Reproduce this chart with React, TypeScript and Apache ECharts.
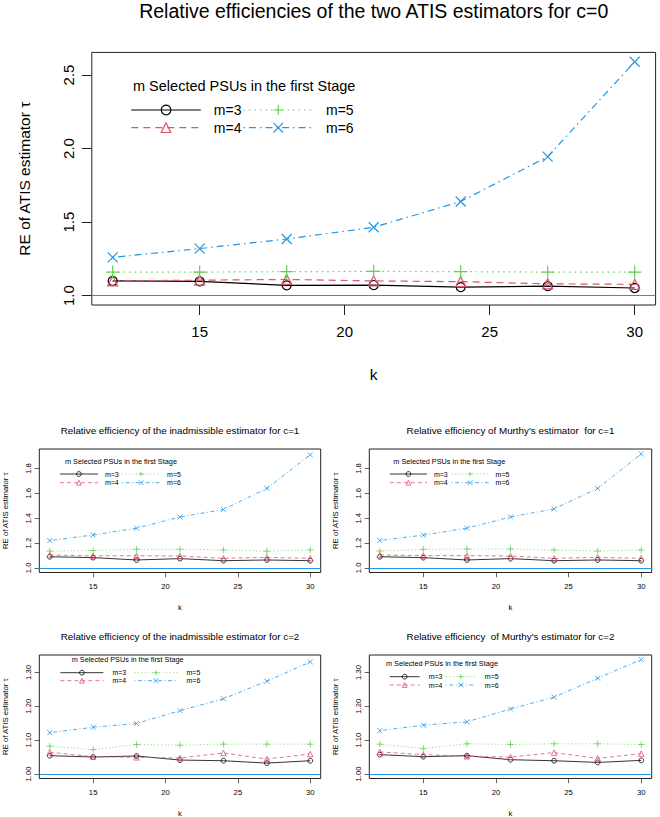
import React, { useEffect, useRef } from "react";
import * as echarts from "echarts";

// ---------- data ----------
const kValues = [12, 15, 18, 21, 24, 27, 30];
const seriesNames = ["m=3", "m=4", "m=5", "m=6"];
const kTicks = [15, 20, 25, 30];

// c = 0 (two ATIS estimators)
const c0_m3 = [1.1, 1.097, 1.07, 1.072, 1.058, 1.065, 1.052];
const c0_m4 = [1.1, 1.105, 1.11, 1.1, 1.095, 1.08, 1.077];
const c0_m5 = [1.16, 1.16, 1.163, 1.165, 1.163, 1.16, 1.16];
const c0_m6 = [1.26, 1.32, 1.385, 1.465, 1.64, 1.945, 2.59];
const c0Ticks = [1.0, 1.5, 2.0, 2.5];

// c = 1, inadmissible estimator
const c1i_m3 = [1.09, 1.083, 1.064, 1.075, 1.058, 1.064, 1.058];
const c1i_m4 = [1.104, 1.097, 1.098, 1.096, 1.077, 1.085, 1.077];
const c1i_m5 = [1.135, 1.14, 1.15, 1.15, 1.145, 1.135, 1.145];
const c1i_m6 = [1.22, 1.265, 1.32, 1.41, 1.47, 1.64, 1.91];

// c = 1, Murthy's estimator
const c1m_m3 = [1.09, 1.083, 1.064, 1.075, 1.058, 1.064, 1.058];
const c1m_m4 = [1.104, 1.099, 1.099, 1.096, 1.077, 1.085, 1.077];
const c1m_m5 = [1.136, 1.149, 1.152, 1.152, 1.144, 1.136, 1.144];
const c1m_m6 = [1.221, 1.264, 1.32, 1.41, 1.475, 1.64, 1.917];
const c1Ticks = [1.0, 1.2, 1.4, 1.6, 1.8];

// c = 2, inadmissible estimator
const c2i_m3 = [1.054, 1.05, 1.053, 1.041, 1.039, 1.032, 1.039];
const c2i_m4 = [1.064, 1.051, 1.049, 1.047, 1.062, 1.044, 1.059];
const c2i_m5 = [1.082, 1.072, 1.087, 1.085, 1.088, 1.088, 1.088];
const c2i_m6 = [1.122, 1.138, 1.149, 1.187, 1.222, 1.274, 1.331];

// c = 2, Murthy's estimator
const c2m_m3 = [1.057, 1.051, 1.054, 1.042, 1.039, 1.034, 1.04];
const c2m_m4 = [1.065, 1.057, 1.052, 1.05, 1.063, 1.046, 1.06];
const c2m_m5 = [1.088, 1.075, 1.089, 1.087, 1.089, 1.089, 1.087];
const c2m_m6 = [1.128, 1.144, 1.154, 1.192, 1.227, 1.283, 1.338];
const c2Ticks = [1.0, 1.1, 1.2, 1.3];

const panelTitles = [
  "Relative efficiencies of the two ATIS estimators for c=0",
  "Relative efficiency of the inadmissible estimator for c=1",
  "Relative efficiency of Murthy's estimator  for c=1",
  "Relative efficiency of the inadmissible estimator for c=2",
  "Relative efficiency  of Murthy's estimator for c=2",
];
const legendTitle = "m Selected PSUs in the first Stage";
const yName = "RE of ATIS estimator τ";
const xName = "k";

// ---------- styles ----------
const FONT = "'Liberation Sans', Arial, Helvetica, sans-serif";
const COLORS = ["#000000", "#DF536B", "#61D04F", "#2297E6"];
const SYMBOLS = [
  "circle",
  "triangle",
  "path://M0,5L10,5M5,0L5,10",
  "path://M0,0L10,10M10,0L0,10",
];
const DASH_BIG: any[] = ["solid", [7, 5], [1.5, 4], [1.5, 4, 7, 4]];
const DASH_SMALL: any[] = ["solid", [4, 3], [1, 2.5], [1, 2.5, 4, 2.5]];
const SYM_BIG = [9, 10, 13, 10];
const SYM_SMALL = [4.8, 5.5, 6.5, 5];

type Panel = {
  values: number[][];
  ticks: number[];
  dec: number;
  yMin: number;
  yMax: number;
  big: boolean;
  grid: { left: number; top: number; width: number; height: number };
  titleX: number;
  titleY: number;
  leg: {
    titleX: number;
    titleY: number;
    lineX: number;
    row1: number;
    row2: number;
    itemWidth: number;
    pad: number;
    gap: number;
  };
};

const panels: Panel[] = [
  {
    values: [c0_m3, c0_m4, c0_m5, c0_m6],
    ticks: c0Ticks,
    dec: 1,
    yMin: 0.9364,
    yMax: 2.6536,
    big: true,
    grid: { left: 91.8, top: 52.4, width: 563.8, height: 252.6 },
    titleX: 373.7,
    titleY: 1,
    leg: { titleX: 133, titleY: 78.5, lineX: 130.7, row1: 110, row2: 127.7, itemWidth: 69.5, pad: 8, gap: 1.5 },
  },
  {
    values: [c1i_m3, c1i_m4, c1i_m5, c1i_m6],
    ticks: c1Ticks,
    dec: 1,
    yMin: 0.9632,
    yMax: 1.9568,
    big: false,
    grid: { left: 39.3, top: 449, width: 281.4, height: 123.5 },
    titleX: 180,
    titleY: 425,
    leg: { titleX: 65, titleY: 458, lineX: 59.5, row1: 474, row2: 482.7, itemWidth: 38, pad: 2, gap: 3 },
  },
  {
    values: [c1m_m3, c1m_m4, c1m_m5, c1m_m6],
    ticks: c1Ticks,
    dec: 1,
    yMin: 0.9632,
    yMax: 1.9568,
    big: false,
    grid: { left: 369.3, top: 449, width: 282.4, height: 123.5 },
    titleX: 510.5,
    titleY: 425,
    leg: { titleX: 393.3, titleY: 458, lineX: 389.5, row1: 474, row2: 482.7, itemWidth: 37, pad: 2, gap: 3.5 },
  },
  {
    values: [c2i_m3, c2i_m4, c2i_m5, c2i_m6],
    ticks: c2Ticks,
    dec: 2,
    yMin: 0.9865,
    yMax: 1.3515,
    big: false,
    grid: { left: 39.3, top: 655, width: 281.4, height: 123.5 },
    titleX: 180,
    titleY: 631,
    leg: { titleX: 71.7, titleY: 655.6, lineX: 60, row1: 672.7, row2: 680.7, itemWidth: 43, pad: 4, gap: 7.9 },
  },
  {
    values: [c2m_m3, c2m_m4, c2m_m5, c2m_m6],
    ticks: c2Ticks,
    dec: 2,
    yMin: 0.9865,
    yMax: 1.3515,
    big: false,
    grid: { left: 369.3, top: 655, width: 282.4, height: 123.5 },
    titleX: 510.5,
    titleY: 631,
    leg: { titleX: 386, titleY: 659.6, lineX: 389.3, row1: 676.7, row2: 685, itemWidth: 30, pad: 4, gap: 2.9 },
  },
];

function buildOption() {
  const titles: any[] = [];
  const legends: any[] = [];
  const grids: any[] = [];
  const xAxes: any[] = [];
  const yAxes: any[] = [];
  const series: any[] = [];

  panels.forEach((p, pi) => {
    const big = p.big;
    const lw = big ? 1.2 : 0.8;
    const dashes = big ? DASH_BIG : DASH_SMALL;
    const syms = big ? SYM_BIG : SYM_SMALL;

    titles.push({
      text: panelTitles[pi],
      left: p.titleX,
      top: p.titleY,
      textAlign: "center",
      padding: 0,
      textStyle: { fontSize: big ? 19.5 : 9.8, fontWeight: "normal", color: "#000", fontFamily: FONT },
    });
    titles.push({
      text: legendTitle,
      left: p.leg.titleX,
      top: p.leg.titleY,
      textAlign: "left",
      padding: 0,
      textStyle: { fontSize: big ? 14.5 : 7.3, fontWeight: "normal", color: "#000", fontFamily: FONT },
    });

    const itemH = big ? 12 : 6;
    const legFont = big ? 14 : 7;
    const rowH = Math.max(itemH, legFont);
    const rows = [
      [0, 2],
      [1, 3],
    ];
    rows.forEach((idxs, ri) => {
      legends.push({
        show: true,
        orient: "horizontal",
        left: p.leg.lineX,
        top: (ri === 0 ? p.leg.row1 : p.leg.row2) - rowH / 2,
        padding: 0,
        itemGap: p.leg.gap,
        itemWidth: p.leg.itemWidth,
        itemHeight: itemH,
        selectedMode: false,
        textStyle: { fontSize: legFont, color: "#000", fontFamily: FONT, padding: [0, 0, 0, p.leg.pad] },
        data: idxs.map((mi) => ({
          name: seriesNames[mi],
          lineStyle: { color: COLORS[mi], width: lw, type: dashes[mi] },
          itemStyle: { color: "rgba(0,0,0,0)", borderColor: COLORS[mi], borderWidth: lw },
        })),
      });
    });

    grids.push({
      left: p.grid.left,
      top: p.grid.top,
      width: p.grid.width,
      height: p.grid.height,
      show: true,
      borderColor: "#222",
      borderWidth: 1,
      backgroundColor: "rgba(0,0,0,0)",
      containLabel: false,
      outerBoundsMode: "none",
    });

    xAxes.push({
      type: "value",
      gridIndex: pi,
      min: 11.28,
      max: 30.72,
      axisLine: { show: false },
      axisTick: {
        show: true,
        inside: false,
        length: big ? 10 : 4.7,
        lineStyle: { color: "#222", width: big ? 1 : 0.7 },
        customValues: kTicks,
      },
      axisLabel: {
        customValues: kTicks,
        margin: big ? 19 : 10,
        fontSize: big ? 15 : 7.7,
        color: "#000",
        fontFamily: FONT,
      },
      splitLine: { show: false },
      name: xName,
      nameLocation: "middle",
      nameGap: big ? 61 : 31,
      nameTextStyle: { fontSize: big ? 15.5 : 7.7, color: "#000", fontFamily: FONT },
    });

    yAxes.push({
      type: "value",
      gridIndex: pi,
      min: p.yMin,
      max: p.yMax,
      axisLine: { show: false },
      axisTick: {
        show: true,
        inside: false,
        length: big ? 10 : 4.7,
        lineStyle: { color: "#222", width: big ? 1 : 0.7 },
        customValues: p.ticks,
      },
      axisLabel: {
        customValues: p.ticks,
        rotate: 90,
        margin: big ? 16 : 7,
        fontSize: big ? 15 : 7.7,
        color: "#000",
        fontFamily: FONT,
        formatter: (v: number) => Number(v).toFixed(p.dec),
      },
      splitLine: { show: false },
      name: yName,
      nameLocation: "middle",
      nameRotate: 90,
      nameGap: big ? 59 : 30,
      nameTextStyle: { fontSize: big ? 15.5 : 7.7, color: "#000", fontFamily: FONT },
    });

    p.values.forEach((vals, mi) => {
      const s: any = {
        type: "line",
        name: seriesNames[mi],
        xAxisIndex: pi,
        yAxisIndex: pi,
        data: kValues.map((k, i) => [k, vals[i]]),
        symbol: SYMBOLS[mi],
        symbolSize: syms[mi],
        showAllSymbol: true,
        lineStyle: { color: COLORS[mi], width: lw, type: dashes[mi] },
        itemStyle: { color: "rgba(0,0,0,0)", borderColor: COLORS[mi], borderWidth: lw },
        emphasis: { disabled: true },
        silent: true,
        z: 3,
      };
      if (mi === 0) {
        s.markLine = {
          silent: true,
          symbol: "none",
          label: { show: false },
          lineStyle: { color: "#2297E6", type: "solid", width: big ? 1.2 : 1 },
          data: [{ yAxis: 1 }],
        };
      }
      series.push(s);
    });
  });

  return {
    animation: false,
    backgroundColor: "#ffffff",
    textStyle: { fontFamily: FONT },
    title: titles,
    legend: legends,
    grid: grids,
    xAxis: xAxes,
    yAxis: yAxes,
    series,
  };
}

export default function App() {
  const ref = useRef<HTMLDivElement>(null);
  useEffect(() => {
    if (!ref.current) return;
    const chart = echarts.init(ref.current, undefined, { renderer: "svg" });
    chart.setOption(buildOption() as any);
    return () => {
      chart.dispose();
    };
  }, []);
  return (
    <div
      ref={ref}
      style={{ position: "absolute", left: 0, top: 0, width: 660, height: 817, background: "#fff" }}
    />
  );
}
